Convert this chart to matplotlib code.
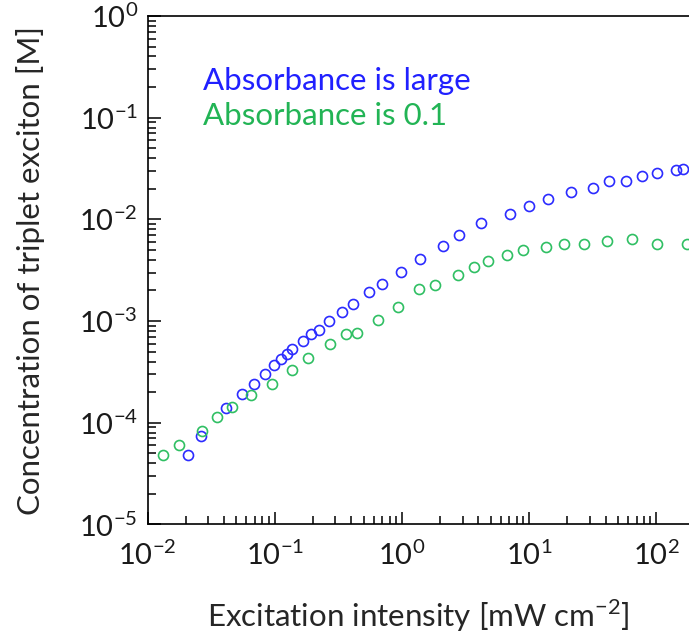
import numpy as np
import matplotlib
matplotlib.use('Agg')
import matplotlib.pyplot as plt
from matplotlib.ticker import LogLocator, LogFormatterMathtext, NullFormatter

plt.rcParams['font.family'] = ['Lato', 'DejaVu Sans']

# Excitation intensity [mW cm-2] and triplet concentration [M]
large_x = [0.0209, 0.0264, 0.0414, 0.0550, 0.0691, 0.0839, 0.0979, 0.112, 0.1243,
           0.1375, 0.1654, 0.194, 0.222, 0.265, 0.336, 0.415, 0.553, 0.701, 0.989,
           1.388, 2.116, 2.81, 4.21, 7.10, 10.04, 14.08, 21.35, 31.8, 42.5, 57.8,
           77.6, 100.7, 142, 161]
large_y = [4.82e-5, 7.33e-5, 1.382e-4, 1.928e-4, 2.417e-4, 3.04e-4, 3.68e-4, 4.24e-4,
           4.73e-4, 5.35e-4, 6.30e-4, 7.38e-4, 8.18e-4, 1.00e-3, 1.22e-3, 1.48e-3,
           1.92e-3, 2.34e-3, 3.04e-3, 4.08e-3, 5.51e-3, 6.98e-3, 9.28e-3, 1.138e-2,
           1.345e-2, 1.576e-2, 1.86e-2, 2.05e-2, 2.40e-2, 2.40e-2, 2.67e-2, 2.86e-2,
           3.04e-2, 3.15e-2]

low_x = [0.0133, 0.0178, 0.0270, 0.0352, 0.0464, 0.0651, 0.0958, 0.1375, 0.1837,
         0.272, 0.363, 0.446, 0.651, 0.937, 1.356, 1.811, 2.746, 3.69, 4.78, 6.73,
         8.91, 13.65, 18.8, 27.2, 41.0, 64.4, 100.7, 173]
low_y = [4.82e-5, 6.09e-5, 8.30e-5, 1.14e-4, 1.44e-4, 1.87e-4, 2.42e-4, 3.27e-4,
         4.37e-4, 5.91e-4, 7.42e-4, 7.69e-4, 1.03e-3, 1.385e-3, 2.05e-3, 2.26e-3,
         2.86e-3, 3.38e-3, 3.87e-3, 4.42e-3, 5.04e-3, 5.35e-3, 5.73e-3, 5.71e-3,
         6.13e-3, 6.37e-3, 5.73e-3, 5.73e-3]

blue = '#2b2bff'
green = '#2fbf63'

fig = plt.figure(figsize=(6.89, 6.44), dpi=100)
ax = fig.add_axes([0.2141, 0.1857, 0.7859, 0.7894])

ax.plot(large_x, large_y, 'o', mfc='none', mec=blue, ms=7.2, mew=1.2)
ax.plot(low_x, low_y, 'o', mfc='none', mec=green, ms=7.2, mew=1.2)

ax.set_xscale('log')
ax.set_yscale('log')
ax.set_xlim(1e-2, 10 ** 2.257)
ax.set_ylim(1e-5, 1)

for axis in (ax.xaxis, ax.yaxis):
    axis.set_major_locator(LogLocator(base=10, numticks=10))
    axis.set_minor_locator(LogLocator(base=10, subs=np.arange(2, 10), numticks=10))
    axis.set_major_formatter(LogFormatterMathtext())
    axis.set_minor_formatter(NullFormatter())

ax.tick_params(which='both', direction='in', width=1.1, colors='black',
               labelcolor='#1a1a1a', top=False, right=False)
ax.tick_params(which='major', length=9, labelsize=21, pad=7)
ax.tick_params(which='minor', length=6)
ax.tick_params(axis='x', which='major', pad=12)

for side in ('left', 'bottom', 'top'):
    ax.spines[side].set_linewidth(1.2)
ax.spines['right'].set_visible(False)

ax.set_xlabel(r'Excitation intensity [mW cm$^{\mathregular{-2}}$]', fontsize=22.5,
              color='#262626', labelpad=20)
ax.set_ylabel('Concentration of triplet exciton [M]', fontsize=22.5,
              color='#262626', labelpad=24)

ax.text(0.103, 0.8544, 'Absorbance is large', transform=ax.transAxes,
        fontsize=22.5, color='#2020ff', va='baseline', ha='left')
ax.text(0.103, 0.7857, 'Absorbance is 0.1', transform=ax.transAxes,
        fontsize=22.5, color='#22b455', va='baseline', ha='left')

fig.savefig('out.png', dpi=100)
